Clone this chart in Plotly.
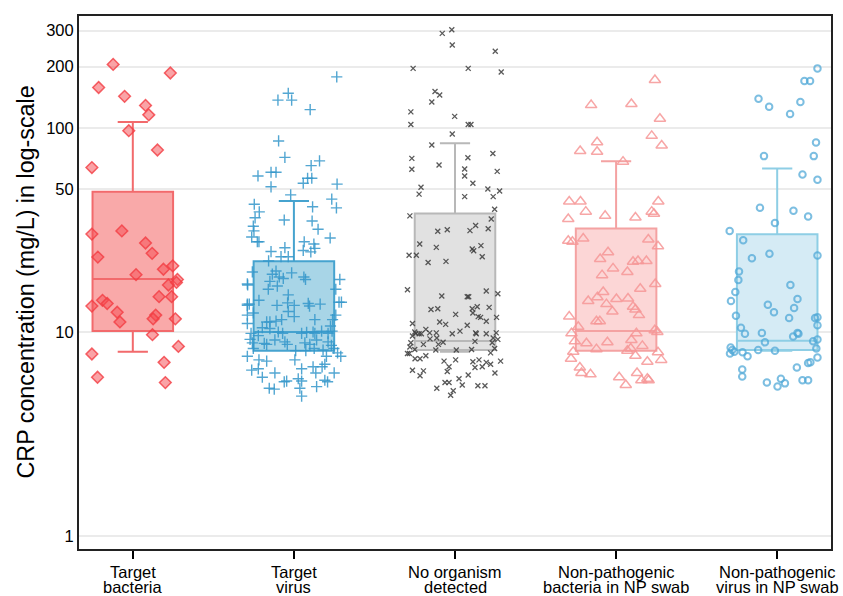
import plotly.graph_objects as go

# ---------------- data ----------------
category_lines = [["Target", "bacteria"], ["Target", "virus"], ["No organism", "detected"],
                  ["Non-pathogenic", "bacteria in NP swab"], ["Non-pathogenic", "virus in NP swab"]]
y_tick_values = [1, 10, 50, 100, 200, 300]
y_title = "CRP concentration (mg/L) in log-scale"

box_q1 = [10.1, 8.1, 8.16, 8.1, 8.16]
box_median = [18.2, 10.0, 9.03, 10.1, 9.05]
box_q3 = [48.7, 22.2, 38.1, 32.2, 30.1]
box_lower = [8.0, 8.1, 8.0, 8.1, 8.1]
box_upper = [107, 43.9, 84.3, 68.7, 63.3]

target_bacteria_crp = [205, 186, 158, 143, 129, 116, 97, 78, 64, 30.2, 31.3, 27.3, 24.3, 23.3, 20.3, 21.1,
                       19.1, 18.1, 17.0, 17.5, 13.4, 14.3, 13.8, 14.9, 14.9, 12.5, 11.2, 12.1, 11.6, 11.6,
                       9.7, 7.8, 8.5, 7.1, 6.0, 5.65]
target_bacteria_jitter = [-0.122, 0.233, -0.212, -0.051, 0.079, 0.099, -0.025, 0.153, -0.254, -0.254, -0.068,
                          0.079, 0.120, -0.217, 0.190, 0.248, 0.020, 0.277, 0.221, 0.271, -0.254, -0.188,
                          -0.159, 0.163, 0.241, -0.097, -0.080, 0.142, 0.126, 0.264, 0.122, -0.254, 0.283,
                          0.194, -0.219, 0.202]

target_virus_crp = [178, 148, 137, 137, 123, 86.4, 71.8, 65.4, 69, 58.2,
                    60.7, 60.7, 53.6, 56.7, 56.7, 53.1, 51.5, 47.0, 42.3, 38.8,
                    44.8, 40.6, 41.1, 35.4, 35.0, 36.3, 33.0, 31.9, 29.2, 27.7,
                    27.7, 31.3, 28.9, 27.7, 27.0, 25.7, 25.9, 25.1, 24.7, 24.8,
                    23.4, 23.4, 22.3, 19.7, 19.9, 18.6, 18.3, 19.2, 17.7, 16.2,
                    16.8, 19.5, 18.6, 18.1, 18.1, 16.2, 17.0, 15.2, 14.3, 13.7,
                    13.7, 13.5, 13.9, 13.5, 13.8, 13.4, 13.7, 14.0, 14.0, 12.1,
                    12.4, 12.6, 11.9, 11.3, 11.2, 11.2, 11.5, 11.5, 12.1, 10.7,
                    11.5, 10.5, 10.4, 9.85, 11.0, 10.0, 9.85, 9.85, 9.95, 10.0,
                    9.85, 10.1, 9.85, 10.1, 9.2, 8.85, 9.6, 8.8, 8.7, 9.14,
                    8.95, 8.7, 8.85, 8.7, 9.14, 8.95, 8.6, 8.3, 8.1, 8.1,
                    8.3, 8.16, 8.3, 7.9, 7.6, 7.6, 7.3, 7.2, 7.3, 7.6,
                    6.5, 6.6, 6.3, 6.6, 6.75, 6.3, 6.75, 6.95, 6.3, 6.0,
                    5.9, 5.75, 5.7, 5.75, 5.4, 5.8, 5.7, 5.3, 5.25, 5.3,
                    4.85, 17.2, 13.5]
target_virus_jitter = [0.266, -0.035, -0.099, -0.014, 0.101, -0.095, -0.056, 0.107, 0.159, -0.223,
                       -0.142, -0.111, 0.058, 0.085, 0.111, 0.268, -0.142, -0.020, -0.246, -0.215,
                       0.235, 0.264, 0.116, -0.060, 0.113, -0.241, -0.252, 0.150, -0.262, -0.227,
                       -0.217, -0.248, 0.225, 0.064, 0.124, 0.130, -0.056, 0.058, 0.105, -0.142,
                       -0.080, -0.035, -0.157, -0.258, -0.111, -0.091, -0.066, -0.134, -0.149, -0.159,
                       -0.103, -0.014, 0.062, 0.072, 0.285, 0.260, -0.287, -0.035, -0.217, -0.289,
                       -0.277, -0.105, -0.039, 0.002, 0.089, 0.097, 0.163, 0.280, 0.295, -0.289,
                       -0.252, -0.035, 0.002, -0.111, -0.169, -0.149, 0.130, 0.240, 0.260, 0.227,
                       -0.076, -0.196, -0.149, -0.266, -0.289, -0.097, -0.070, 0.048, 0.079, 0.119,
                       0.130, 0.172, 0.212, 0.237, -0.272, -0.258, -0.221, -0.184, -0.169, -0.118,
                       -0.056, -0.041, 0.068, 0.099, 0.141, 0.212, 0.233, -0.252, 0.011, 0.074,
                       0.126, 0.181, 0.248, 0.271, 0.291, -0.289, -0.217, -0.169, 0.006, 0.202,
                       -0.262, -0.221, -0.118, 0.048, 0.119, 0.136, 0.175, 0.192, 0.250, -0.196,
                       0.027, 0.048, -0.060, -0.045, 0.141, 0.192, 0.209, -0.153, -0.122, 0.037,
                       0.048, -0.289, -0.289]

no_organism_crp = [291, 303, 255, 238, 196, 196, 188, 151, 145, 134,
                   120, 114, 104, 104, 104, 93.5, 82.6, 71, 62.8, 65.9,
                   71.5, 62.9, 58.2, 75, 61.3, 53.6, 51.2, 47.4, 50.2, 49.1,
                   46.1, 46.1, 40, 37.1, 35.8, 31.2, 31.7, 31.4, 33.3, 32.1,
                   27.0, 26.0, 25.5, 25.0, 26.5, 23.4, 23.8, 23.8, 21.9, 22.2,
                   16.1, 15.0, 14.9, 14.9, 15.9, 15.4, 12.9, 13.0, 12.2, 13.0,
                   13.3, 11.9, 11.8, 12.4, 11.3, 13.2, 11.8, 11.2, 10.9, 10.8,
                   11.0, 10.1, 9.8, 9.9, 9.8, 9.8, 9.9, 10.0, 9.85, 9.8,
                   9.8, 10.3, 9.9, 9.9, 9.25, 9.35, 9.55, 8.85, 8.45, 8.7,
                   8.7, 8.9, 9.0, 9.35, 9.2, 8.85, 8.2, 7.85, 7.85, 7.65,
                   8.16, 8.16, 8.2, 7.9, 8.3, 7.4, 7.4, 7.2, 7.3, 7.15,
                   7.3, 7.1, 6.95, 7.2, 6.75, 6.4, 6.7, 6.75, 6.5, 6.45,
                   6.15, 6.1, 6.3, 5.9, 5.5, 5.65, 5.65, 5.3, 5.45, 5.45,
                   5.15, 4.9]
no_organism_jitter = [-0.079, -0.020, -0.017, 0.250, -0.260, 0.082, 0.287, -0.124, -0.095, -0.144,
                      -0.274, -0.002, -0.274, 0.082, 0.099, -0.017, -0.144, -0.268, -0.268, -0.099,
                      0.080, 0.060, 0.060, 0.235, 0.262, 0.111, -0.211, -0.223, 0.204, 0.277,
                      0.237, 0.060, 0.246, -0.280, 0.225, -0.107, -0.048, 0.093, 0.128, 0.206,
                      -0.219, -0.116, 0.107, 0.116, 0.161, 0.169, -0.285, -0.240, -0.167, -0.056,
                      -0.295, -0.082, 0.076, 0.085, 0.194, 0.266, -0.149, -0.107, 0.004, 0.107,
                      0.138, 0.144, 0.159, 0.111, 0.194, 0.212, 0.258, -0.095, -0.058, 0.076,
                      -0.264, 0.031, -0.017, 0.128, 0.132, 0.194, 0.256, -0.250, -0.243, -0.223,
                      -0.209, -0.181, -0.157, -0.116, -0.155, -0.113, -0.264, -0.274, -0.280, -0.196,
                      -0.103, -0.074, 0.124, 0.237, 0.266, 0.231, -0.250, -0.295, -0.283, -0.181,
                      -0.119, 0.008, 0.103, 0.221, 0.246, -0.248, -0.217, -0.068, 0.004, 0.111,
                      0.149, 0.194, 0.221, 0.283, -0.037, -0.048, 0.124, 0.169, -0.264, -0.196,
                      0.082, -0.217, 0.248, 0.025, 0.045, -0.062, -0.037, -0.113, 0.142, 0.186,
                      -0.011, -0.027]

np_bacteria_crp = [172, 129.5, 131, 111, 91.5, 82, 85.2, 76.5, 77.1, 68.4,
                   43.6, 43.6, 38.9, 35.8, 37.1, 36.4, 43.6, 38.9, 38.0, 28.0,
                   27.7, 28.7, 28.4, 26.3, 24.6, 22.8, 20.5, 19.0, 19.7, 22.1,
                   22.3, 22.3, 17.2, 16.3, 15.7, 14.8, 14.2, 14.5, 14.6, 13.7,
                   13.3, 12.9, 12.1, 12.6, 11.3, 11.3, 11.9, 10.6, 10.2, 10.0,
                   9.85, 9.0, 8.8, 8.9, 9.14, 9.85, 8.55, 8.24, 8.1, 8.3,
                   8.0, 7.4, 7.65, 7.95, 7.3, 7.15, 6.7, 6.3, 6.2, 6.0,
                   5.5, 6.3, 5.8, 5.9, 5.8]
np_bacteria_jitter = [0.241, -0.155, 0.095, 0.272, 0.221, 0.283, -0.118, -0.118, -0.223, 0.043,
                      -0.291, -0.221, -0.188, -0.297, -0.068, 0.120, 0.262, 0.221, 0.235, -0.297,
                      -0.271, -0.204, 0.200, 0.260, -0.050, -0.099, -0.019, -0.087, 0.070, 0.105,
                      0.136, 0.188, 0.243, 0.150, -0.080, -0.116, -0.173, 0.002, 0.074, -0.060,
                      0.105, 0.120, 0.142, -0.023, -0.122, -0.101, -0.291, -0.235, 0.240, 0.256,
                      -0.277, -0.256, -0.184, -0.054, 0.095, 0.126, 0.163, -0.122, 0.070, 0.091,
                      -0.266, -0.280, 0.120, 0.260, 0.280, 0.194, -0.225, -0.215, -0.159, 0.019,
                      0.060, 0.130, 0.157, 0.194, 0.202]

np_virus_crp = [196, 170, 170, 139, 127, 134, 117, 85, 72.8, 72.8,
                59.2, 55.8, 40.6, 39.3, 36.8, 34.2, 31.3, 28.2, 24.2, 23.0,
                23.7, 19.8, 18.0, 17.0, 15.7, 14.2, 13.6, 14.5, 13.1, 12.5,
                12.0, 11.7, 11.7, 11.8, 10.8, 10.5, 9.8, 9.9, 9.5, 9.9,
                9.8, 8.9, 9.0, 9.2, 8.4, 8.16, 8.0, 7.85, 7.95, 7.6,
                8.16, 8.1, 8.3, 7.5, 6.7, 7.05, 7.1, 6.55, 6.05, 5.65,
                5.4, 5.9, 5.6, 5.8, 5.8]
np_virus_jitter = [0.250, 0.169, 0.204, -0.116, -0.050, 0.144, 0.080, 0.241, 0.227, -0.082,
                   0.157, 0.250, -0.107, 0.101, 0.192, -0.014, -0.295, -0.211, -0.048, -0.157,
                   0.250, -0.237, -0.241, 0.082, -0.260, -0.287, -0.058, 0.126, 0.105, -0.020,
                   -0.256, 0.074, 0.235, 0.250, 0.250, -0.225, -0.200, -0.095, 0.099, 0.126,
                   0.132, -0.076, 0.223, 0.250, -0.289, -0.279, -0.266, -0.293, -0.215, -0.184,
                   -0.118, -0.014, 0.243, 0.250, 0.122, 0.192, 0.206, -0.217, -0.217, -0.064,
                   0.002, 0.023, 0.048, 0.157, 0.192]

group_values = [target_bacteria_crp, target_virus_crp, no_organism_crp, np_bacteria_crp, np_virus_crp]
group_jitter = [target_bacteria_jitter, target_virus_jitter, no_organism_jitter, np_bacteria_jitter, np_virus_jitter]

# ---------------- styles ----------------
FONT = "Liberation Sans, Arial, Helvetica, sans-serif"
box_fill = ["#F9A9A9", "#A8D5E7", "#E1E1E1", "#FCD6D6", "#D5EBF5"]
box_line = ["#F26A6C", "#46A3CF", "#B8B8B8", "#F4A2A2", "#8ECEE5"]
markers = [
    dict(symbol="diamond", size=9, color="rgba(246,72,78,0.5)", line=dict(color="rgba(242,60,66,0.8)", width=1.5)),
    dict(symbol="cross-thin", size=8, color="#3D9BCC", line=dict(color="rgba(52,150,202,0.85)", width=1.4)),
    dict(symbol="x-thin", size=5, color="#555555", line=dict(color="rgba(60,60,60,0.85)", width=1.3)),
    dict(symbol="triangle-up-open", size=10, color="rgba(246,150,150,0.85)", line=dict(width=1.5)),
    dict(symbol="circle-open", size=6.5, color="rgba(80,168,215,0.75)", line=dict(width=2)),
]

fig = go.Figure()

for i in range(len(category_lines)):
    fig.add_trace(go.Box(
        x=[i], q1=[box_q1[i]], median=[box_median[i]], q3=[box_q3[i]],
        lowerfence=[box_lower[i]], upperfence=[box_upper[i]],
        width=0.5, whiskerwidth=0.375, boxpoints=False,
        fillcolor=box_fill[i], line=dict(color=box_line[i], width=2),
        showlegend=False, hoverinfo="skip"))

for i in range(len(category_lines)):
    xs = [i + j for j in group_jitter[i]]
    fig.add_trace(go.Scatter(
        x=xs, y=group_values[i], mode="markers", marker=markers[i],
        showlegend=False, hoverinfo="skip"))

for i, lines in enumerate(category_lines):
    for k, line in enumerate(lines):
        fig.add_annotation(x=i, xref="x", y=0, yref="paper", text=line, showarrow=False,
                           xanchor="center", yanchor="middle", yshift=-22.5 - 15.5 * k,
                           font=dict(family=FONT, size=16.5, color="black"))

fig.add_annotation(x=0, xref="paper", y=0.5, yref="paper", text=y_title, showarrow=False,
                   textangle=-90, xanchor="center", yanchor="middle", xshift=-54,
                   font=dict(family=FONT, size=23.3, color="black"))

fig.update_layout(
    width=843, height=596,
    margin=dict(l=79, r=10, t=16, b=47),
    paper_bgcolor="white", plot_bgcolor="white",
    font=dict(family=FONT, color="black"),
    xaxis=dict(range=[-0.334, 4.334], tickvals=list(range(len(category_lines))), showticklabels=False,
               ticks="outside", ticklen=8, tickwidth=1.5, tickcolor="black",
               showgrid=False, zeroline=False, showline=True, linecolor="#222", linewidth=2, mirror=True),
    yaxis=dict(type="log", range=[-0.0637, 2.549], tickvals=y_tick_values,
               ticktext=[str(v) for v in y_tick_values], ticks="", tickfont=dict(size=16.5, family=FONT, color="black"),
               showgrid=True, gridcolor="#EBEBEB", gridwidth=1.5, zeroline=False,
               showline=True, linecolor="#222", linewidth=2, mirror=True),
)

# remove the page's default body margin so the 843x596 figure fills the window exactly
fig.write_html("out.html", config={"displayModeBar": False},
               post_script="document.body.style.margin='0';document.body.style.overflow='hidden';")
